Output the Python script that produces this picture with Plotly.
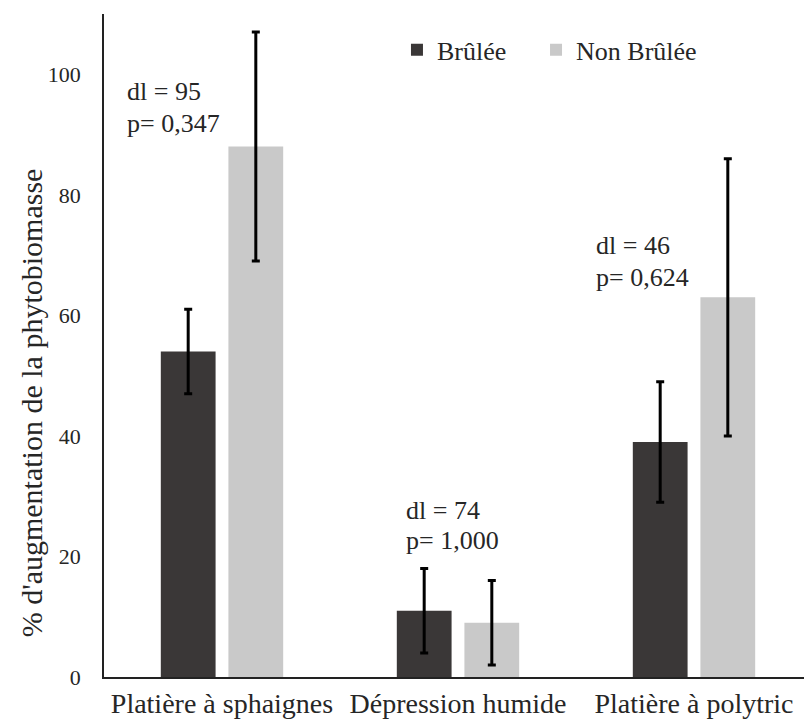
import plotly.graph_objects as go

categories = ["Platière à sphaignes", "Dépression humide", "Platière à polytric"]
brulee = [54, 11, 39]
brulee_err = [7, 7, 10]
non_brulee = [88, 9, 63]
non_brulee_err = [19, 7, 23]
dl_values = [95, 74, 46]
p_values = ["0,347", "1,000", "0,624"]
ann_x = [0.0297, 0.4237, 0.692]
ann_y_dl = [97.1, 27.7, 71.6]
ann_y_p = [91.9, 22.6, 66.2]
y_ticks = [0, 20, 40, 60, 80, 100]

FONT = "Liberation Serif"
TXT = "#262626"

fig = go.Figure()
fig.add_trace(go.Bar(
    name="Brûlée", x=categories, y=brulee, legend="legend",
    marker=dict(color="#3a3737", line=dict(width=0)),
    error_y=dict(type="data", array=brulee_err, color="black", thickness=3, width=4),
))
fig.add_trace(go.Bar(
    name="Non Brûlée", x=categories, y=non_brulee, legend="legend2",
    marker=dict(color="#c9c9c9", line=dict(width=0)),
    error_y=dict(type="data", array=non_brulee_err, color="black", thickness=3, width=4),
))

for x, y1, y2, dl, p in zip(ann_x, ann_y_dl, ann_y_p, dl_values, p_values):
    fig.add_annotation(
        x=x, y=y1, xref="paper", yref="y", xanchor="left", yanchor="middle",
        text=f"dl = {dl}", showarrow=False, align="left",
        font=dict(family=FONT, size=26, color=TXT),
    )
    fig.add_annotation(
        x=x, y=y2, xref="paper", yref="y", xanchor="left", yanchor="middle",
        text=f"p= {p}", showarrow=False, align="left",
        font=dict(family=FONT, size=26, color=TXT),
    )

fig.add_annotation(
    x=-0.103, y=0.413, xref="paper", yref="paper", xanchor="center", yanchor="middle",
    text="% d'augmentation de la phytobiomasse", textangle=-90, showarrow=False,
    font=dict(family=FONT, size=30, color=TXT),
)

legend_style = dict(
    orientation="h", xanchor="left", y=0.946, yanchor="middle",
    font=dict(family=FONT, size=26, color=TXT), itemwidth=30,
    bgcolor="rgba(0,0,0,0)",
)

# the page body has an 8px margin, so the figure is shrunk by 8px on each side
fig.update_layout(
    width=804, height=715,
    margin=dict(l=96, r=0, t=6, b=46),
    paper_bgcolor="white", plot_bgcolor="white",
    barmode="group", bargap=0.427, bargroupgap=0.19,
    font=dict(family=FONT, color=TXT),
    showlegend=True,
    legend=dict(x=0.4138, **legend_style),
    legend2=dict(x=0.6102, **legend_style),
    xaxis=dict(
        showline=True, linecolor="#222", linewidth=1.5, ticks="",
        tickfont=dict(family=FONT, size=28, color=TXT), ticklabelstandoff=1,
        showgrid=False, automargin=False,
    ),
    yaxis=dict(
        range=[0, 110], tickvals=y_ticks, showline=True, linecolor="#222", linewidth=1.5,
        ticks="", showgrid=False, zeroline=False, automargin=False,
        tickfont=dict(family=FONT, size=22, color=TXT), ticklabelstandoff=17,
    ),
)

fig.write_html("out.html")
